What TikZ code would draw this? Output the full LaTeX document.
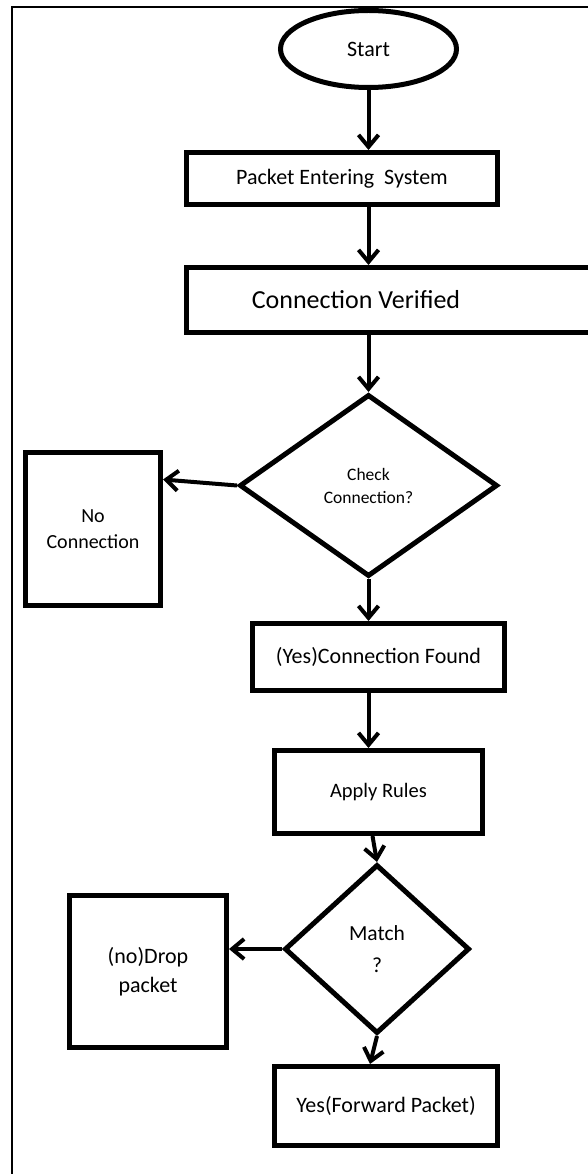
\documentclass[tikz,border=0pt]{standalone}
\usepackage{fontspec}
\setmainfont{Carlito}
\usetikzlibrary{arrows.meta}
\usetikzlibrary{shapes.geometric}

\begin{document}
\begin{tikzpicture}[x=1pt,y=-1pt,>={Straight Barb[length=12pt,width=20pt]},
        box/.style={draw,rectangle,line width=5pt,inner sep=0pt,align=center,font=\fontsize{22}{29}\selectfont},
        decision/.style={draw,diamond,line width=5pt,inner sep=0pt,align=center},
        flow/.style={->,line width=4pt}]
        \useasboundingbox (0,0) rectangle (588,1174);

        % frame
        \draw[line width=2pt] (12,1180) -- (12,7) -- (600,7);

        \node[draw,ellipse,line width=5pt,minimum width=176,minimum height=77,font=\fontsize{22}{26}\selectfont] (start) at (368.5,49) {Start};
        \node[box,minimum width=311,minimum height=52] (packet) at (342,178.5) {Packet Entering~~System};
        \node[box,minimum width=408,minimum height=65,font=\fontsize{26}{30}\selectfont] (verified) at (390,300) {\hspace*{-68pt}Connection Verified};
        \node[decision,minimum width=258,minimum height=182,font=\fontsize{17.5}{23}\selectfont] (check) at (368.5,485.5) {Check\\Connection?};
        \node[box,minimum width=135,minimum height=153,font=\fontsize{20}{26}\selectfont] (nocon) at (93,529) {No\\Connection};
        \node[box,minimum width=252,minimum height=67] (found) at (378.5,657) {(Yes)Connection Found};
        \node[box,minimum width=208,minimum height=83,font=\fontsize{20.5}{26}\selectfont] (rules) at (378.5,792) {Apply Rules};
        \node[decision,minimum width=185,minimum height=169,font=\fontsize{21.5}{32}\selectfont] (match) at (377,949) {Match\\?};
        \node[box,minimum width=157,minimum height=152] (drop) at (148,971.5) {(no)Drop\\packet};
        \node[box,minimum width=223,minimum height=79] (forward) at (386,1106) {Yes(Forward Packet)};

        \draw[flow] (start.south) -- (start.south |- packet.north);
        \draw[flow] (start.south |- packet.south) -- (start.south |- verified.north);
        \draw[flow] (check.north |- verified.south) -- (check.north);
        \draw[flow] (check.west) -- ([yshift=6pt]nocon.east |- check.west);
        \draw[flow] (check.south) -- (check.south |- found.north);
        \draw[flow] (check.south |- found.south) -- (check.south |- rules.north);
        \draw[flow] ([xshift=-6pt]rules.south) -- (match.north);
        \draw[flow] (match.west) -- (drop.east |- match.west);
        \draw[flow] (match.south) -- ([xshift=-16pt]forward.north);
    \end{tikzpicture}
\end{document}
